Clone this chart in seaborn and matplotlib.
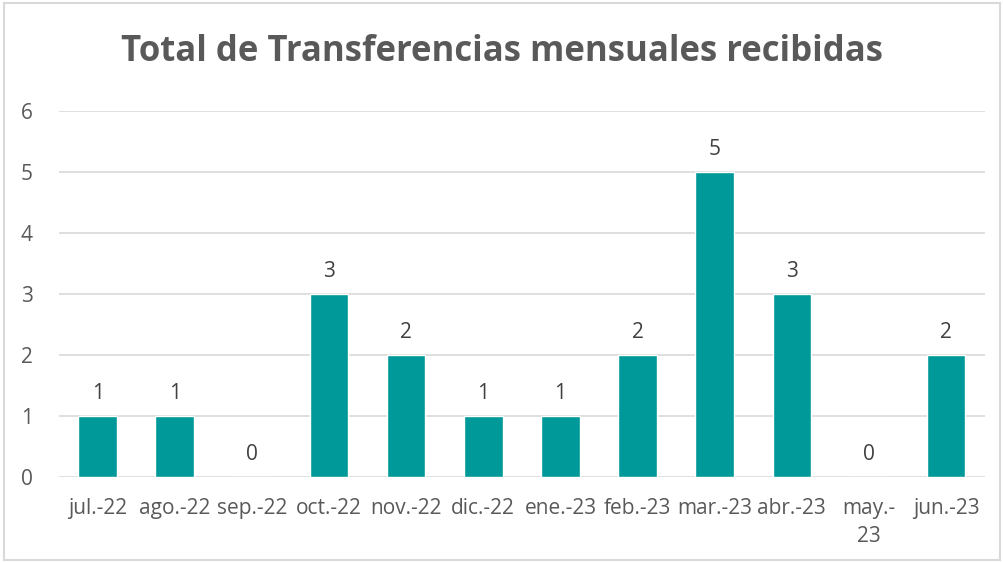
import matplotlib
matplotlib.use("Agg")
import matplotlib.pyplot as plt
import seaborn as sns
import pandas as pd
from matplotlib.patches import Rectangle

months = ["jul.-22", "ago.-22", "sep.-22", "oct.-22", "nov.-22", "dic.-22",
          "ene.-23", "feb.-23", "mar.-23", "abr.-23", "may.-\n23", "jun.-23"]
values = [1, 1, 0, 3, 2, 1, 1, 2, 5, 3, 0, 2]
title = "Total de Transferencias mensuales recibidas"

sns.set_theme(style="white")
plt.rcParams['font.family'] = ['Open Sans', 'DejaVu Sans']

df = pd.DataFrame({"mes": months, "valor": values})

fig = plt.figure(figsize=(10.04, 5.63), dpi=100)
ax = fig.add_axes([0.0588, 0.1527, 0.922, 0.6501])
sns.barplot(data=df, x="mes", y="valor", color="#009999", width=0.5,
            saturation=1, ax=ax, zorder=3)

ax.set_ylim(0, 6)
ax.set_xlim(-0.5, len(months) - 0.5)
ax.set_yticks(range(0, 7))
ax.yaxis.grid(True, color="#d9d9d9", linewidth=1.2, zorder=0)
ax.xaxis.grid(False)
for s in ax.spines.values():
    s.set_visible(False)
ax.set_xlabel("")
ax.set_ylabel("")
ax.tick_params(axis="both", length=0, labelsize=15, colors="#595959")
ax.tick_params(axis="y", pad=19)
ax.tick_params(axis="x", pad=15)
for lbl in ax.get_xticklabels():
    lbl.set_linespacing(1.45)

for i, v in enumerate(values):
    ax.annotate(str(v), (i, v), xytext=(0, 9), textcoords="offset points",
                ha="center", va="bottom", fontsize=15, color="#404040")

fig.text(0.5, 0.907, title, ha="center", va="center", fontsize=25,
         fontweight="bold", color="#595959")

fig.patches.append(Rectangle((0.004, 0.006), 0.992, 0.988, transform=fig.transFigure,
                             fill=False, edgecolor="#d9d9d9", linewidth=1.5))

fig.savefig("out.png", dpi=100)
